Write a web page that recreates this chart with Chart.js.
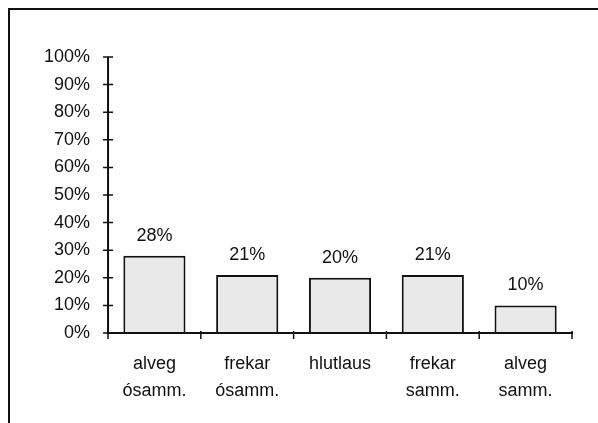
<!DOCTYPE html>
<html>
<head>
<meta charset="utf-8">
<script src="https://cdn.jsdelivr.net/npm/chart.js@4/dist/chart.umd.min.js"></script>
<style>
  html, body { margin: 0; padding: 0; background: #fff; }
  #wrap { position: relative; width: 598px; height: 423px; overflow: hidden; }
  #frame { position: absolute; left: 8px; top: 8px; width: 600px; height: 430px;
           border-top: 2px solid #111; border-left: 2px solid #111; box-sizing: border-box; }
  canvas { position: absolute; left: 0; top: 0; }
</style>
</head>
<body>
<div id="wrap">
  <div id="frame"></div>
  <canvas id="c" width="598" height="423"></canvas>
</div>
<script>
const categories = [['alveg', 'ósamm.'], ['frekar', 'ósamm.'], ['hlutlaus'], ['frekar', 'samm.'], ['alveg', 'samm.']];
const values = [28, 21, 20, 21, 10];
const yTicks = [0, 10, 20, 30, 40, 50, 60, 70, 80, 90, 100];

const FONT = { family: '"Liberation Sans", Arial, Helvetica, sans-serif', size: 18, lineHeight: 1.5 };

const axisPlugin = {
  id: 'axisPlugin',
  afterDatasetsDraw(chart) {
    const ctx = chart.ctx;
    const xs = chart.scales.x, ys = chart.scales.y;
    const x0 = xs.left, x1 = xs.right;
    const yBase = ys.getPixelForValue(0), yTop = ys.getPixelForValue(100);
    ctx.save();
    ctx.strokeStyle = '#111';
    ctx.lineWidth = 2;
    ctx.beginPath();
    ctx.moveTo(x0, yTop); ctx.lineTo(x0, yBase + 1);
    ctx.moveTo(x0 - 1, yBase); ctx.lineTo(x1 + 1, yBase);
    ctx.stroke();
    ctx.lineWidth = 1.5;
    ctx.beginPath();
    yTicks.forEach(v => {
      const y = ys.getPixelForValue(v);
      ctx.moveTo(x0 - 5, y); ctx.lineTo(x0 + 5, y);
    });
    for (let i = 0; i <= categories.length; i++) {
      const x = xs.getPixelForValue(i - 0.5);
      ctx.moveTo(x, yBase - 2); ctx.lineTo(x, yBase + 6);
    }
    ctx.stroke();
    // data labels
    ctx.fillStyle = '#111';
    ctx.font = '18px "Liberation Sans", Arial, sans-serif';
    ctx.textAlign = 'center';
    ctx.textBaseline = 'middle';
    chart.getDatasetMeta(0).data.forEach((bar, i) => {
      ctx.fillText(values[i] + '%', bar.x, bar.y - 20);
    });
    ctx.restore();
  }
};

new Chart(document.getElementById('c'), {
  type: 'bar',
  data: {
    labels: categories,
    datasets: [{
      data: values,
      backgroundColor: '#e9e9e9',
      borderColor: '#111',
      borderWidth: 2,
      borderSkipped: 'bottom',
      categoryPercentage: 1.0,
      barPercentage: 0.67
    }]
  },
  options: {
    responsive: false,
    animation: false,
    devicePixelRatio: 1,
    layout: { padding: { left: 26, right: 26, top: 57, bottom: 0 } },
    plugins: { legend: { display: false }, tooltip: { enabled: false } },
    scales: {
      x: {
        offset: true,
        grid: { display: false, drawTicks: false },
        border: { display: false },
        ticks: { color: '#111', font: FONT, padding: 18, maxRotation: 0, autoSkip: false }
      },
      y: {
        min: 0, max: 100,
        grid: { display: false, drawTicks: false },
        border: { display: false },
        ticks: { stepSize: 10, color: '#111', font: { family: FONT.family, size: 18 }, padding: 18,
                 callback: v => v + '%' }
      }
    }
  },
  plugins: [axisPlugin]
});
</script>
</body>
</html>
